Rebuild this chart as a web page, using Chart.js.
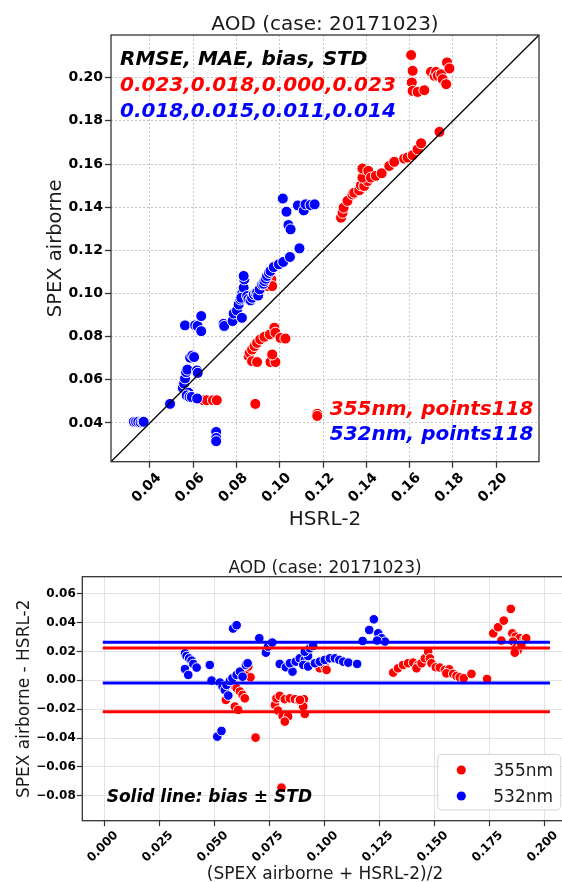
<!DOCTYPE html>
<html><head><meta charset="utf-8">
<script src="https://cdn.jsdelivr.net/npm/chart.js@4.4.1/dist/chart.umd.min.js"></script>
<style>
html,body{margin:0;padding:0;background:#fff;overflow:hidden;width:562px;height:882px;position:relative;}
#c1{position:absolute;left:0;top:0;}
#c2{position:absolute;left:0;top:540px;}
</style></head><body>
<canvas id="c1" width="562" height="535" style="width:562px;height:535px"></canvas>
<canvas id="c2" width="600" height="342" style="width:600px;height:342px"></canvas>
<script>
// ---------- data ----------
const seriesNames = ['355nm', '532nm'];
const seriesColors = ['#ff0000', '#0000ff'];
const chartTitle = 'AOD (case: 20171023)';
const statsHeader = 'RMSE, MAE, bias, STD';
const stats355 = '0.023,0.018,0.000,0.023';
const stats532 = '0.018,0.015,0.011,0.014';
const count355 = '355nm, points118';
const count532 = '532nm, points118';

// scatter: HSRL-2 (x) vs SPEX airborne (y)
const sc355x = [0.0647,0.0663,0.0691,0.0709,0.0887,0.1173,0.1173,
  0.0856,0.0861,0.0872,0.0883,0.0895,0.0910,0.0929,0.0954,0.0975,0.0980,0.1003,0.1026,0.0872,0.0895,0.0957,0.0980,0.0965,
  0.0941,0.0961,0.0965,
  0.1283,0.1290,0.1295,0.1313,0.1336,0.1344,0.1367,0.1375,0.1390,0.1406,0.1382,0.1382,0.1409,0.1421,0.1444,0.1471,0.1506,0.1529,0.1575,0.1591,0.1614,0.1637,0.1653,0.1738,
  0.1607,0.1614,0.1610,0.1614,0.1637,0.1668,0.1699,0.1715,0.1722,0.1730,0.1746,0.1753,0.1769,0.1773,0.1784];
const sc355y = [0.0505,0.0505,0.0505,0.0505,0.0488,0.0442,0.0432,
  0.0709,0.0725,0.0740,0.0756,0.0771,0.0787,0.0799,0.0810,0.0841,0.0818,0.0794,0.0791,0.0686,0.0682,0.0682,0.0682,0.0717,
  0.1034,0.1065,0.1034,
  0.1351,0.1374,0.1398,0.1429,0.1459,0.1467,0.1478,0.1501,0.1498,0.1521,0.1537,0.1579,0.1568,0.1537,0.1545,0.1557,0.1591,0.1610,0.1625,0.1630,0.1641,0.1668,0.1696,0.1749,
  0.2105,0.2032,0.1978,0.1939,0.1934,0.1942,0.2027,0.2009,0.2027,0.2009,0.2016,0.1993,0.1970,0.2071,0.2043];
const sc532x = [0.0326,0.0336,0.0346,0.0357,0.0366,0.0371,
  0.0493,
  0.0552,0.0558,0.0562,0.0567,0.0573,0.0578,0.0570,0.0583,0.0593,0.0586,0.0596,0.0604,0.0617,0.0621,0.0618,
  0.0562,0.0609,0.0620,0.0637,0.0637,
  0.0706,0.0706,0.0706,
  0.0740,0.0743,0.0782,0.0787,0.0802,0.0825,0.0810,0.0818,0.0827,0.0833,0.0836,0.0833,0.0822,0.0849,0.0855,0.0865,0.0872,0.0880,0.0890,0.0895,0.0900,0.0907,0.0918,0.0925,0.0929,0.0935,0.0941,0.0950,0.0957,0.0972,0.0996,0.1016,0.1047,0.1091,
  0.1014,0.1031,0.1040,0.1050,0.1084,0.1111,0.1119,0.1142,0.1161];
const sc532y = [0.0405,0.0405,0.0405,0.0402,0.0405,0.0405,
  0.0488,
  0.0562,0.0582,0.0606,0.0635,0.0647,0.0540,0.0527,0.0520,0.0520,0.0702,0.0712,0.0705,0.0643,0.0632,0.0513,
  0.0852,0.0852,0.0849,0.0895,0.0825,
  0.0358,0.0330,0.0315,
  0.0859,0.0849,0.0872,0.0907,0.0921,0.0887,0.0949,0.0972,0.1003,0.1026,0.1065,0.1081,0.0980,0.0988,0.0975,0.0968,0.0980,0.0996,0.1000,0.1006,0.0990,0.1019,0.1042,0.1045,0.1057,0.1068,0.1081,0.1095,0.1104,0.1122,0.1135,0.1146,0.1169,0.1209,
  0.1440,0.1379,0.1317,0.1297,0.1408,0.1385,0.1413,0.1410,0.1413];

// Bland-Altman: mean (x) vs difference (y)
const ba355x = [0.0644,0.0655,0.0665,0.0586,0.0602,0.0617,0.0629,0.0639,0.0553,0.0594,0.0609,0.0688,
  0.0776,0.0783,0.0798,0.0821,0.0844,0.0867,0.0886,0.0908,0.0790,0.0811,0.0836,0.0821,0.0912,0.0905,0.0806,0.0890,
  0.0980,0.1003,0.1011,
  0.1314,0.1336,0.1359,0.1382,0.1405,0.1428,0.1420,0.1443,0.1458,0.1473,0.1481,0.1488,0.1508,0.1526,0.1549,0.1569,0.1556,0.1587,0.1602,0.1617,0.1635,0.1670,0.1741,
  0.1769,0.1791,0.1817,0.1849,0.1806,0.1856,0.1871,0.1889,0.1912,0.1919,0.1859,0.1875,0.1882,0.1867,0.1897];
const ba355y = [0.0060,0.0095,0.0021,-0.0032,-0.0055,-0.0078,-0.0101,-0.0125,-0.0136,-0.0182,-0.0205,-0.0397,
  -0.0171,-0.0125,-0.0108,-0.0131,-0.0125,-0.0131,-0.0141,-0.0131,-0.0210,-0.0247,-0.0251,-0.0286,-0.0233,-0.0182,-0.0743,-0.0136,
  0.0083,0.0095,0.0072,
  0.0053,0.0083,0.0106,0.0118,0.0122,0.0106,0.0083,0.0118,0.0152,0.0198,0.0152,0.0118,0.0090,0.0088,0.0072,0.0076,0.0048,0.0044,0.0030,0.0021,0.0014,0.0044,0.0009,
  0.0325,0.0367,0.0413,0.0494,0.0275,0.0325,0.0302,0.0291,0.0284,0.0291,0.0268,0.0228,0.0210,0.0191,0.0245];
const ba532x = [0.0367,0.0374,0.0386,0.0397,0.0405,0.0420,0.0367,0.0382,
  0.0480,0.0488,
  0.0526,0.0538,0.0548,0.0564,0.0556,0.0571,0.0583,0.0602,0.0617,0.0629,0.0644,0.0652,
  0.0586,0.0602,
  0.0514,0.0533,
  0.0705,0.0735,0.0745,0.0764,
  0.0798,0.0826,0.0856,0.0844,0.0871,0.0889,0.0912,0.0927,
  0.0912,0.0935,0.0950,0.0905,0.0927,0.0958,0.0980,0.1003,0.1026,0.1049,0.1069,0.1087,0.1110,0.1150,
  0.1175,0.1205,0.1226,0.1246,0.1261,0.1276,0.1241];
const ba532y = [0.0187,0.0168,0.0152,0.0136,0.0113,0.0088,0.0078,0.0037,
  0.0106,-0.0002,
  -0.0016,-0.0044,-0.0067,-0.0106,-0.0032,-0.0005,0.0014,0.0037,0.0060,0.0025,0.0106,0.0118,
  0.0358,0.0381,
  -0.0390,-0.0351,
  0.0291,0.0191,0.0233,0.0261,
  0.0113,0.0090,0.0060,0.0118,0.0129,0.0152,0.0141,0.0168,
  0.0198,0.0221,0.0238,0.0106,0.0095,0.0118,0.0129,0.0141,0.0152,0.0152,0.0141,0.0129,0.0122,0.0113,
  0.0272,0.0348,0.0422,0.0325,0.0291,0.0268,0.0275];

// bias ± STD lines
const lines355 = [0.0224, -0.0217];
const lines532 = [0.0263, -0.0019];
const lineSpan = [0.0, 0.202];

// axes
const scRange = [0.022, 0.2198];
const scTicks = [0.04,0.06,0.08,0.10,0.12,0.14,0.16,0.18,0.20];
const baXRange = [-0.01, 0.21];
const baYRange = [-0.0972, 0.0717];
const baXTicks = [0.000,0.025,0.050,0.075,0.100,0.125,0.150,0.175,0.200];
const baYTicks = [-0.08,-0.06,-0.04,-0.02,0.00,0.02,0.04,0.06];

// ---------- helpers ----------
const zip = (xs, ys) => xs.map((x, i) => ({x, y: ys[i]}));
const FAM = '"DejaVu Sans", sans-serif';
const fmt = d => v => (v < 0 ? '\u2212' : '') + Math.abs(v).toFixed(d);

const textPlugin = {
  id: 'texts',
  afterDraw(chart, args, opts) {
    const ctx = chart.ctx;
    (opts.items || []).forEach(t => {
      ctx.save();
      ctx.font = t.font; ctx.fillStyle = t.color || '#000';
      ctx.textAlign = t.align || 'left'; ctx.textBaseline = 'alphabetic';
      ctx.translate(t.x, t.y);
      if (t.rot) ctx.rotate(t.rot);
      ctx.fillText(t.text, 0, 0);
      ctx.restore();
    });
  }
};
const framePlugin = {
  id: 'frame',
  afterDatasetsDraw(chart, args, opts) {
    const {left, right, top, bottom} = chart.chartArea;
    const ctx = chart.ctx;
    ctx.save(); ctx.strokeStyle = opts.color; ctx.lineWidth = opts.width;
    ctx.strokeRect(left, top, right - left, bottom - top);
    ctx.restore();
  }
};
const legendPlugin = {
  id: 'boxLegend',
  afterDraw(chart, args, opts) {
    if (!opts.show) return;
    const ctx = chart.ctx;
    const b = opts.box;
    ctx.save();
    ctx.beginPath();
    ctx.roundRect(b.x, b.y, b.w, b.h, 4);
    ctx.fillStyle = 'rgba(255,255,255,0.85)'; ctx.fill();
    ctx.strokeStyle = '#d4d4d4'; ctx.lineWidth = 1; ctx.stroke();
    opts.entries.forEach((e, i) => {
      const cy = b.y + opts.first + i * opts.gap;
      ctx.beginPath(); ctx.arc(b.x + opts.dotX, cy, opts.r, 0, Math.PI * 2);
      ctx.fillStyle = e.color; ctx.fill();
      ctx.font = opts.font; ctx.fillStyle = '#1a1a1a'; ctx.textAlign = 'left'; ctx.textBaseline = 'alphabetic';
      ctx.fillText(e.label, b.x + opts.textX, cy + 6);
    });
    ctx.restore();
  }
};
const setTicks = vals => s => { s.ticks = vals.map(v => ({value: v})); };

// ---------- top chart ----------
new Chart(document.getElementById('c1'), {
  type: 'scatter',
  data: { datasets: [
    {type: 'line', label: '1:1', data: [{x: scRange[0], y: scRange[0]}, {x: scRange[1], y: scRange[1]}],
     borderColor: '#000', borderWidth: 1.3, pointRadius: 0, fill: false, order: 0},
    {label: seriesNames[1], data: zip(sc532x, sc532y), backgroundColor: seriesColors[1], borderColor: '#fff',
     borderWidth: 1, pointRadius: 5.5, order: 1},
    {label: seriesNames[0], data: zip(sc355x, sc355y), backgroundColor: seriesColors[0], borderColor: '#fff',
     borderWidth: 1, pointRadius: 5.5, order: 2}
  ]},
  options: {
    responsive: false, animation: false, devicePixelRatio: 1,
    layout: {padding: {left: 0, top: 35, right: 23, bottom: 0}},
    plugins: {
      legend: {display: false}, tooltip: {enabled: false},
      frame: {color: '#333', width: 1.3},
      texts: {items: [
        {text: chartTitle, x: 325, y: 29.5, align: 'center', font: '20px ' + FAM, color: '#1a1a1a'},
        {text: statsHeader, x: 120, y: 65, font: 'italic bold 20px ' + FAM, color: '#000'},
        {text: stats355, x: 120, y: 90.5, font: 'italic bold 20px ' + FAM, color: seriesColors[0]},
        {text: stats532, x: 120, y: 116.5, font: 'italic bold 20px ' + FAM, color: seriesColors[1]},
        {text: count355, x: 533.5, y: 414.5, align: 'right', font: 'italic bold 20px ' + FAM, color: seriesColors[0]},
        {text: count532, x: 533.5, y: 439.5, align: 'right', font: 'italic bold 20px ' + FAM, color: seriesColors[1]},
        {text: 'HSRL-2', x: 325, y: 525, align: 'center', font: '20px ' + FAM, color: '#1a1a1a'},
        {text: 'SPEX airborne', x: 61, y: 248.3, align: 'center', rot: -Math.PI / 2, font: '19.5px ' + FAM, color: '#1a1a1a'}
      ]}
    },
    scales: {
      x: {type: 'linear', min: scRange[0], max: scRange[1],
        afterBuildTicks: setTicks(scTicks), afterFit: s => { s.height = 535 - 461.7; },
        ticks: {callback: fmt(2), color: '#000', font: {family: FAM, size: 14, weight: 'bold'},
          minRotation: 45, maxRotation: 45, autoSkip: false, padding: 2, labelOffset: 9},
        grid: {color: '#c4c4c4', lineWidth: 1, tickColor: '#333', tickLength: 6, tickWidth: 1.3, tickBorderDash: []},
        border: {display: false, dash: [2, 2]}},
      y: {type: 'linear', min: scRange[0], max: scRange[1],
        afterBuildTicks: setTicks(scTicks), afterFit: s => { s.width = 111; },
        ticks: {callback: fmt(2), color: '#000', font: {family: FAM, size: 14, weight: 'bold'}, padding: 2, autoSkip: false},
        grid: {color: '#c4c4c4', lineWidth: 1, tickColor: '#333', tickLength: 6, tickWidth: 1.3, tickBorderDash: []},
        border: {display: false, dash: [2, 2]}}
    }
  },
  plugins: [textPlugin, framePlugin]
});

// ---------- bottom chart ----------
const hline = (v, color) => ({type: 'line', data: [{x: lineSpan[0], y: v}, {x: lineSpan[1], y: v}],
  borderColor: color, borderWidth: 3, borderCapStyle: 'square', pointRadius: 0, fill: false, order: 0});
new Chart(document.getElementById('c2'), {
  type: 'scatter',
  data: { datasets: [
    {label: seriesNames[1], data: zip(ba532x, ba532y), backgroundColor: seriesColors[1], borderColor: '#fff',
     borderWidth: 1, pointRadius: 4.8, order: 1},
    {label: seriesNames[0], data: zip(ba355x, ba355y), backgroundColor: seriesColors[0], borderColor: '#fff',
     borderWidth: 1, pointRadius: 4.8, order: 2},
    hline(lines532[0], seriesColors[1]), hline(lines355[0], seriesColors[0]),
    hline(lines532[1], seriesColors[1]), hline(lines355[1], seriesColors[0])
  ]},
  options: {
    responsive: false, animation: false, devicePixelRatio: 1,
    layout: {padding: {left: 0, top: 36.7, right: 34, bottom: 0}},
    plugins: {
      legend: {display: false}, tooltip: {enabled: false},
      frame: {color: '#333', width: 1.3},
      boxLegend: {show: true, box: {x: 437.7, y: 214.3, w: 123, h: 55.7}, first: 15.7, gap: 26, dotX: 23.6, r: 4.6,
        textX: 55.6, font: '17px ' + FAM,
        entries: [{label: seriesNames[0], color: seriesColors[0]}, {label: seriesNames[1], color: seriesColors[1]}]},
      texts: {items: [
        {text: chartTitle, x: 325, y: 32.5, align: 'center', font: '17px ' + FAM, color: '#1a1a1a'},
        {text: 'Solid line: bias \u00b1 STD', x: 106.7, y: 262.3, font: 'italic bold 17px ' + FAM, color: '#000'},
        {text: '(SPEX airborne + HSRL-2)/2', x: 325, y: 338.7, align: 'center', font: '17px ' + FAM, color: '#1a1a1a'},
        {text: 'SPEX airborne - HSRL-2', x: 29, y: 158.7, align: 'center', rot: -Math.PI / 2, font: '17px ' + FAM, color: '#1a1a1a'}
      ]}
    },
    scales: {
      x: {type: 'linear', min: baXRange[0], max: baXRange[1],
        afterBuildTicks: setTicks(baXTicks), afterFit: s => { s.height = 342 - 280.7; },
        ticks: {callback: fmt(3), color: '#000', font: {family: FAM, size: 12, weight: 'bold'},
          minRotation: 45, maxRotation: 45, autoSkip: false, padding: 2, labelOffset: 12},
        grid: {color: '#e2e2e2', lineWidth: 1, tickColor: '#333', tickLength: 5.5, tickWidth: 1.2},
        border: {display: false}},
      y: {type: 'linear', min: baYRange[0], max: baYRange[1],
        afterBuildTicks: setTicks(baYTicks), afterFit: s => { s.width = 82.3; },
        ticks: {callback: fmt(2), color: '#000', font: {family: FAM, size: 12, weight: 'bold'}, padding: 1, autoSkip: false},
        grid: {color: '#e2e2e2', lineWidth: 1, tickColor: '#333', tickLength: 5.5, tickWidth: 1.2},
        border: {display: false}}
    }
  },
  plugins: [textPlugin, framePlugin, legendPlugin]
});
</script>
</body></html>
